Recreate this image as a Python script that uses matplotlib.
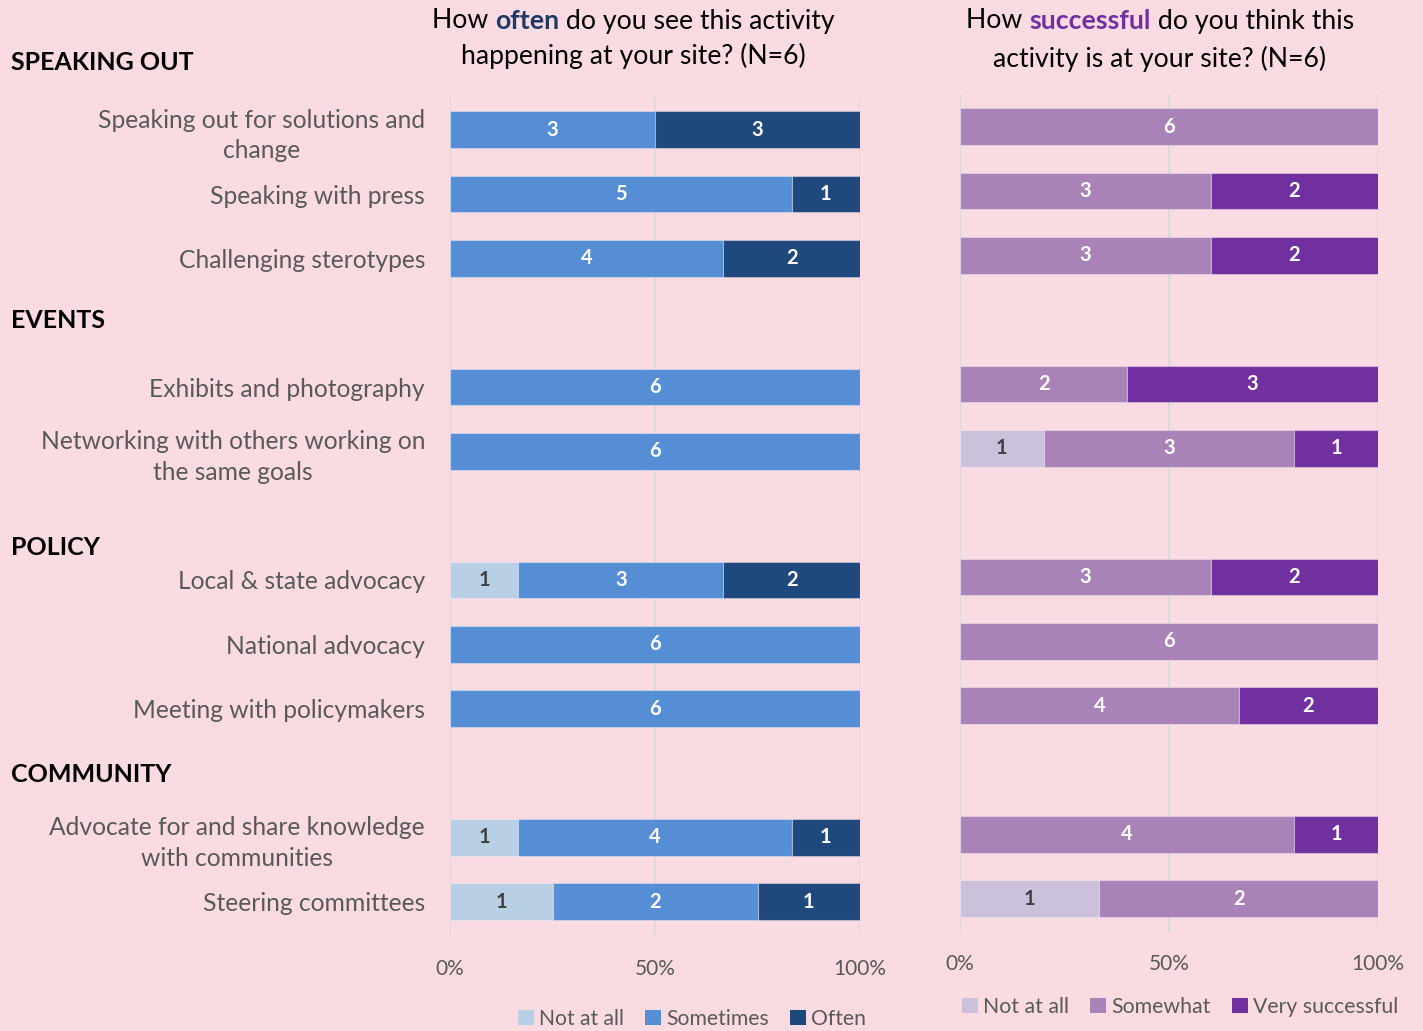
import matplotlib
matplotlib.use("Agg")
import matplotlib.pyplot as plt
import matplotlib.transforms as mtransforms
from matplotlib.patches import Patch
import numpy as np

plt.rcParams['font.family'] = ['Lato', 'DejaVu Sans']

# ---------------- data ----------------
categories = [
    "Speaking out for solutions and\nchange",
    "Speaking with press",
    "Challenging sterotypes",
    "Exhibits and photography",
    "Networking with others working on\nthe same goals",
    "Local & state advocacy",
    "National advocacy",
    "Meeting with policymakers",
    "Advocate for and share knowledge\nwith communities",
    "Steering committees",
]
sections = ["SPEAKING OUT", "EVENTS", "POLICY", "COMMUNITY"]

often_series = ["Not at all", "Sometimes", "Often"]
often_not = [0, 0, 0, 0, 0, 1, 0, 0, 1, 1]
often_some = [3, 5, 4, 6, 6, 3, 6, 6, 4, 2]
often_often = [3, 1, 2, 0, 0, 2, 0, 0, 1, 1]

succ_series = ["Not at all", "Somewhat", "Very successful"]
succ_not = [0, 0, 0, 0, 1, 0, 0, 0, 0, 1]
succ_some = [6, 3, 3, 2, 3, 3, 6, 4, 4, 2]
succ_very = [0, 2, 2, 3, 1, 2, 0, 2, 1, 0]

xticklabels = ["0%", "50%", "100%"]

# ---------------- layout ----------------
W, H = 1423, 1031
BG = "#FBDBE2"
slots = [0, 1, 2, 4, 5, 7, 8, 9, 11, 12]           # row slots (gaps for headers)
header_slots = [-1.05, 2.97, 6.5, 10.02]

blue_cols = ["#B9CFE6", "#558ED5", "#1F497D"]
purple_cols = ["#CCC1DA", "#A983B8", "#7030A0"]
label_cols = ["#404040", "white", "white"]

fig = plt.figure(figsize=(W / 100, H / 100), dpi=100, facecolor=BG)


def fx(px):
    return px / W


def fy(py):
    return 1 - py / H


axL = fig.add_axes([fx(450), fy(935), fx(860) - fx(450), fy(97) - fy(935)])
axR = fig.add_axes([fx(960), fy(932), fx(1378) - fx(960), fy(94) - fy(932)])


def draw(ax, series_vals, cols):
    ax.set_facecolor(BG)
    vals = np.array(series_vals, dtype=float)
    totals = vals.sum(axis=0)
    pct = vals / totals * 100
    left = np.zeros(len(slots))
    for i in range(vals.shape[0]):
        cont = ax.barh(slots, pct[i], left=left, height=0.57, color=cols[i],
                       edgecolor=(1, 1, 1, 0.35), linewidth=0.8, zorder=3)
        labs = [str(int(v)) if v > 0 else "" for v in vals[i]]
        ax.bar_label(cont, labels=labs, label_type="center", color=label_cols[i],
                     fontsize=14.5, fontweight="bold")
        left += pct[i]
    ax.set_xlim(0, 100)
    ax.set_ylim(12.52, -0.51)
    for s in ax.spines.values():
        s.set_visible(False)
    ax.set_xticks([0, 50, 100])
    ax.set_xticklabels(xticklabels)
    ax.tick_params(axis="x", length=0, labelsize=15, labelcolor="#595959", pad=17)
    ax.grid(axis="x", color="#D9D9D9", linewidth=1.3, zorder=0)
    ax.set_axisbelow(True)


draw(axL, [often_not, often_some, often_often], blue_cols)
draw(axR, [succ_not, succ_some, succ_very], purple_cols)

axL.set_yticks(slots)
axL.set_yticklabels(categories, fontsize=17.7, color="#595959",
                    multialignment="center", linespacing=1.4)
axL.tick_params(axis="y", length=0, pad=18)
axR.set_yticks([])
axR.tick_params(axis="x", pad=16)

# section headers
tr = mtransforms.blended_transform_factory(fig.transFigure, axL.transData)
for name, s in zip(sections, header_slots):
    fig.text(fx(11), s, name, transform=tr, fontsize=18, fontweight="bold",
             color="black", va="center", ha="left")

# titles with a highlighted word
fig.canvas.draw()
renderer = fig.canvas.get_renderer()


def rich_line(cx_px, cy_px, parts, size=19.2):
    texts = []
    for s, w, c in parts:
        t = fig.text(0, fy(cy_px), s, fontsize=size, fontweight=w, color=c,
                     va="center", ha="left")
        texts.append(t)
    widths = [t.get_window_extent(renderer).width for t in texts]
    total = sum(widths)
    x = cx_px - total / 2
    for t, w in zip(texts, widths):
        t.set_x(fx(x))
        x += w


rich_line(633, 21, [("How ", "normal", "black"), ("often", "bold", "#1F3864"),
                    (" do you see this activity", "normal", "black")])
rich_line(633, 56, [("happening at your site? (N=6)", "normal", "black")])
rich_line(1160, 21, [("How ", "normal", "black"), ("successful", "bold", "#7030A0"),
                     (" do you think this", "normal", "black")])
rich_line(1160, 59, [("activity is at your site? (N=6)", "normal", "black")])

# legends
hL = [Patch(facecolor=c, label=l) for c, l in zip(blue_cols, often_series)]
fig.legend(handles=hL, loc="center", bbox_to_anchor=(fx(692), fy(1019)), ncol=3,
           frameon=False, fontsize=15.2, handlelength=0.75, handleheight=0.75,
           handletextpad=0.25, columnspacing=1.0, labelcolor="#595959")
hR = [Patch(facecolor=c, label=l) for c, l in zip(purple_cols, succ_series)]
fig.legend(handles=hR, loc="center", bbox_to_anchor=(fx(1180), fy(1007)), ncol=3,
           frameon=False, fontsize=15.3, handlelength=0.75, handleheight=0.75,
           handletextpad=0.25, columnspacing=1.0, labelcolor="#595959")

fig.savefig("out.png", dpi=100, facecolor=BG)
